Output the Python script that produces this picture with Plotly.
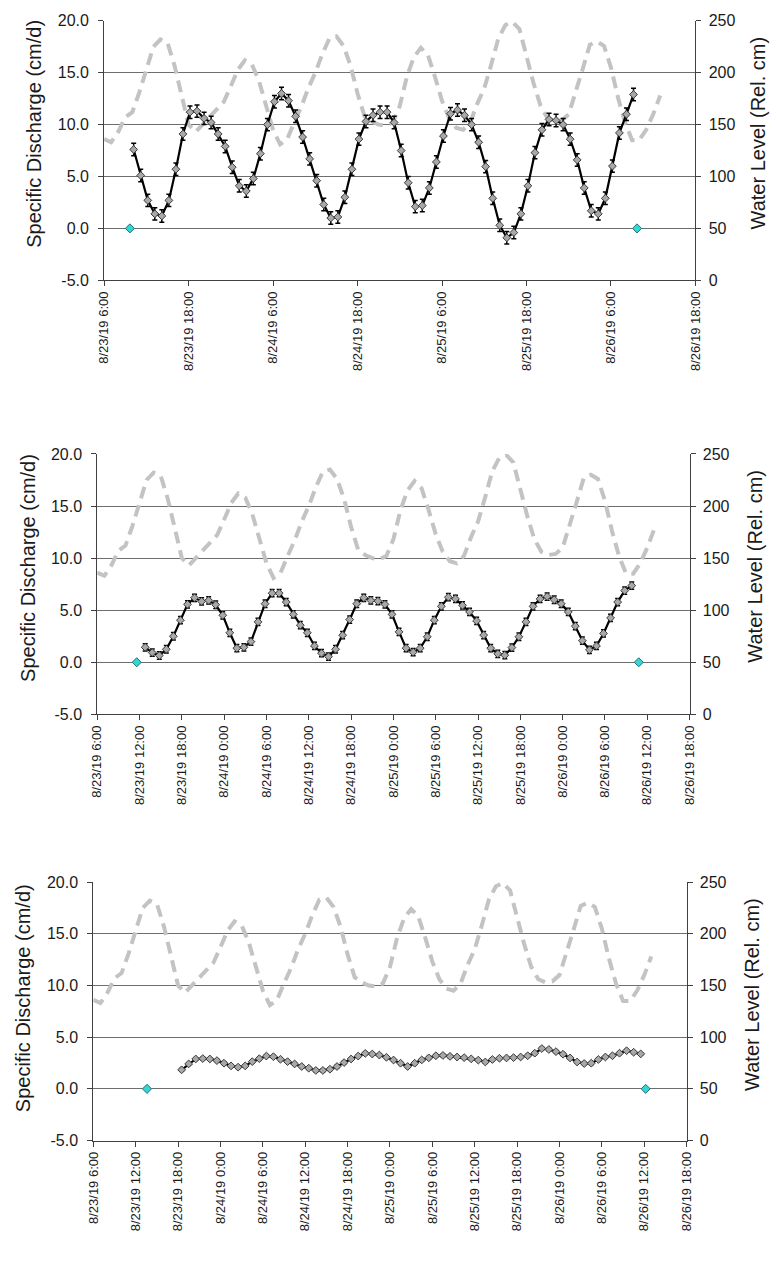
import plotly.graph_objects as go
import pandas as pd

W, H = 776, 1263
FONT = "Liberation Sans, Arial, sans-serif"

# ---------------- data ----------------
wl_start = "2019-08-23 06:00"
water_level = [136, 133, 143, 157, 162, 181, 203, 225, 232, 229, 207, 177, 150, 143, 150, 157,
               164, 172, 187, 203, 212, 208, 192, 170, 145, 131, 136, 152, 167, 185, 200, 218,
               233, 235, 226, 207, 180, 158, 153, 150, 149, 152, 168, 196, 215, 224, 217, 196,
               173, 156, 147, 145, 152, 170, 185, 208, 233, 246, 249, 242, 216, 190, 168, 156,
               153, 154, 160, 181, 204, 227, 230, 226, 205, 176, 152, 135, 135, 145, 160, 178]

sd_top_start = "2019-08-23 10:12"
sd_top = [7.6, 5.1, 2.7, 1.4, 1.2, 2.7, 5.7, 9.1, 11.2, 11.3, 10.6, 10.2, 9.1, 7.9, 5.9, 4.1,
          3.6, 4.8, 7.2, 10.0, 12.2, 13.0, 12.3, 10.8, 8.8, 6.7, 4.6, 2.3, 1.0, 1.1, 3.0, 5.7,
          8.6, 10.3, 10.9, 11.2, 11.2, 10.2, 7.5, 4.4, 2.1, 2.2, 3.9, 6.4, 8.9, 11.05, 11.4, 10.9,
          10.0, 8.3, 5.95, 2.9, 0.3, -0.9, -0.4, 1.4, 4.1, 7.3, 9.5, 10.5, 10.4, 10.0, 8.6, 6.6,
          3.9, 1.7, 1.4, 2.9, 6.0, 9.2, 11.0, 12.9]

sd_mid_start = "2019-08-23 12:48"
sd_mid = [1.44, 0.93, 0.65, 1.25, 2.5, 4.04, 5.56, 6.19, 5.84, 5.94, 5.52, 4.51, 2.83, 1.35,
          1.44, 1.98, 3.88, 5.62, 6.63, 6.63, 5.78, 4.6, 3.56, 2.83, 1.57, 0.87, 0.55, 1.25,
          2.6, 4.1, 5.62, 6.19, 5.94, 5.87, 5.56, 4.6, 2.92, 1.35, 0.97, 1.35, 2.45, 4.04,
          5.37, 6.25, 6.09, 5.46, 4.83, 3.97, 2.61, 1.35, 0.81, 0.68, 1.41, 2.45, 3.88, 5.37,
          6.09, 6.31, 6.0, 5.62, 4.83, 3.47, 2.07, 1.19, 1.57, 2.77, 4.26, 5.78, 6.88, 7.36]

sd_bot_start = "2019-08-23 18:30"
sd_bot = [1.84, 2.41, 2.89, 2.93, 2.89, 2.73, 2.48, 2.22, 2.10, 2.22, 2.63, 2.92, 3.17, 3.11,
          2.86, 2.63, 2.41, 2.16, 2.0, 1.78, 1.78, 1.9, 2.16, 2.54, 2.89, 3.17, 3.43, 3.37,
          3.27, 3.05, 2.79, 2.48, 2.16, 2.48, 2.8, 3.0, 3.2, 3.23, 3.14, 3.08, 3.02, 2.9,
          2.78, 2.6, 2.84, 2.96, 2.99, 3.02, 3.08, 3.2, 3.45, 3.9, 3.81, 3.6, 3.35, 2.99,
          2.6, 2.45, 2.48, 2.84, 3.08, 3.2, 3.45, 3.69, 3.54, 3.38]

cyan_top_t = ["2019-08-23 09:40", "2019-08-26 09:42"]
cyan_mid_t = ["2019-08-23 11:36", "2019-08-26 10:48"]
cyan_bot_t = ["2019-08-23 13:36", "2019-08-26 12:12"]
cyan_val = [0.0, 0.0]

sd_ticks = [-5, 0, 5, 10, 15, 20]
sd_ticktext = ["-5.0", "0.0", "5.0", "10.0", "15.0", "20.0"]
wl_ticks = [0, 50, 100, 150, 200, 250]

x_range = ["2019-08-23 06:00", "2019-08-26 18:00"]
left_title = "Specific Discharge (cm/d)"
right_title = "Water Level (Rel. cm)"

# --------------- layout geometry (px) ---------------
panels = [
    dict(x0=98, x1=701, ytop=13, ybot=276, dt=12, sd=sd_top, start=sd_top_start, cyan=cyan_top_t,
         err=0.6, lt=(27, 127), rt=(765, 127), msize=6),
    dict(x0=91, x1=695, ytop=452, ybot=716, dt=6, sd=sd_mid, start=sd_mid_start, cyan=cyan_mid_t,
         err=0.35, lt=(21, 568), rt=(762, 566), msize=6),
    dict(x0=87, x1=692, ytop=886, ybot=1148, dt=6, sd=sd_bot, start=sd_bot_start, cyan=cyan_bot_t,
         err=0.12, lt=(16, 1004), rt=(758, 1000), msize=6),
]

wl_time = pd.date_range(wl_start, periods=len(water_level), freq="h")

fig = go.Figure()
layout = dict(width=W, height=H, margin=dict(l=0, r=0, t=0, b=0), autosize=False,
              paper_bgcolor="white", plot_bgcolor="white", showlegend=False,
              font=dict(family=FONT, color="#1a1a1a"))
annotations = []

for i, p in enumerate(panels):
    n = i + 1
    xa = "x" if n == 1 else f"x{n}"
    ywl = "y" if n == 1 else f"y{2 * n - 1}"
    ysd = f"y{2 * n}"
    xkey = "xaxis" if n == 1 else f"xaxis{n}"
    ywlkey = "yaxis" if n == 1 else f"yaxis{2 * n - 1}"
    ysdkey = f"yaxis{2 * n}"

    sd_time = pd.date_range(p["start"], periods=len(p["sd"]), freq="h")

    fig.add_trace(go.Scatter(x=wl_time, y=water_level, xaxis=xa, yaxis=ywl, mode="lines",
                             line=dict(color="#c3c3c3", width=4, dash="12px,7px"),
                             hoverinfo="skip"))
    fig.add_trace(go.Scatter(x=sd_time, y=p["sd"], xaxis=xa, yaxis=ysd, mode="lines+markers",
                             line=dict(color="black", width=2.2),
                             marker=dict(symbol="diamond", size=p["msize"], color="#a8a8a8",
                                         line=dict(color="#3a3a3a", width=1)),
                             error_y=dict(type="constant", value=p["err"], color="black",
                                          thickness=1.5, width=2.5)))
    fig.add_trace(go.Scatter(x=p["cyan"], y=cyan_val, xaxis=xa, yaxis=ysd, mode="markers",
                             marker=dict(symbol="diamond", size=7, color="#33d6d6",
                                         line=dict(color="#2a6f6f", width=1))))

    xd = [p["x0"] / W, p["x1"] / W]
    yd = [1 - p["ybot"] / H, 1 - p["ytop"] / H]
    layout[xkey] = dict(domain=xd, anchor=ywl, type="date", range=x_range,
                        tick0="2019-08-23 06:00", dtick=3600000 * p["dt"],
                        tickformat="%-m/%-d/%y %-H:%M", tickangle=-90,
                        ticks="outside", ticklen=5, tickcolor="#404040",
                        showline=True, linecolor="#404040", linewidth=1,
                        showgrid=False, zeroline=False,
                        tickfont=dict(family=FONT, size=13, color="#1a1a1a"))
    layout[ywlkey] = dict(domain=yd, anchor=xa, side="right", range=[0, 250],
                          tickvals=wl_ticks, ticks="outside", ticklen=5, tickcolor="#404040",
                          showline=True, linecolor="#404040", linewidth=1,
                          showgrid=True, gridcolor="#6e6e6e", gridwidth=1, zeroline=False,
                          ticklabelstandoff=4,
                          tickfont=dict(family=FONT, size=16, color="#1a1a1a"))
    layout[ysdkey] = dict(overlaying=ywl, anchor=xa, side="left", range=[-5, 20],
                          tickvals=sd_ticks, ticktext=sd_ticktext, ticks="outside", ticklen=5,
                          tickcolor="#404040", showline=True, linecolor="#404040", linewidth=1,
                          showgrid=False, zeroline=False, ticklabelstandoff=6,
                          tickfont=dict(family=FONT, size=16, color="#1a1a1a"))

    annotations.append(dict(text=left_title, textangle=-90, xref="paper", yref="paper",
                            x=p["lt"][0] / W, y=1 - p["lt"][1] / H, xanchor="center",
                            yanchor="middle", showarrow=False,
                            font=dict(family=FONT, size=20, color="#1a1a1a")))
    annotations.append(dict(text=right_title, textangle=-90, xref="paper", yref="paper",
                            x=p["rt"][0] / W, y=1 - p["rt"][1] / H, xanchor="center",
                            yanchor="middle", showarrow=False,
                            font=dict(family=FONT, size=20, color="#1a1a1a")))

layout["annotations"] = annotations
fig.update_layout(**layout)
fig.write_html("out.html")
